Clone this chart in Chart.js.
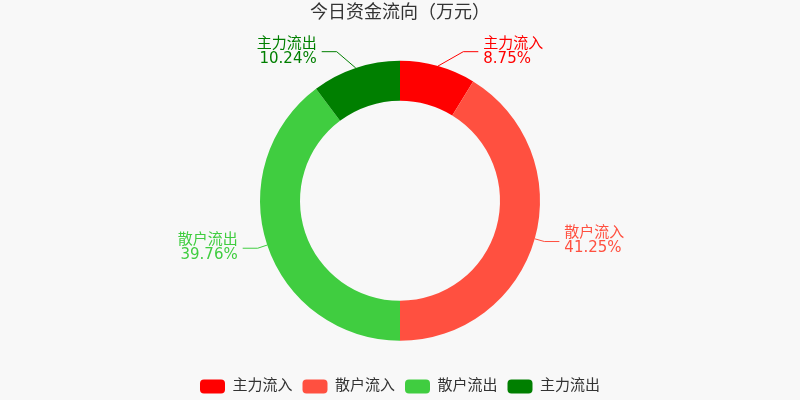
<!DOCTYPE html>
<html>
<head>
<meta charset="utf-8">
<script src="https://cdn.jsdelivr.net/npm/chart.js@4/dist/chart.umd.min.js"></script>
<style>
  html, body { margin: 0; padding: 0; background: #f8f8f8; }
  #wrap { width: 800px; height: 400px; }
</style>
</head>
<body>
<div id="wrap"><canvas id="flowChart"></canvas></div>
<script>
const chartTitle = '今日资金流向（万元）';
const categories = ['主力流入', '散户流入', '散户流出', '主力流出'];
const shares = [8.75, 41.25, 39.76, 10.24];
const sliceColors = ['#ff0000', '#ff5040', '#40cd40', '#007f00'];

const fontFamily = "'DejaVu Sans', 'Noto Sans CJK SC', sans-serif";

// outside labels with a short leader line, like the original
const sliceLabels = {
  id: 'sliceLabels',
  afterDatasetsDraw(chart) {
    const ctx = chart.ctx;
    const meta = chart.getDatasetMeta(0);
    const total = shares.reduce((a, b) => a + b, 0);

    meta.data.forEach((arc, i) => {
      const p = arc.getProps(['x', 'y', 'startAngle', 'endAngle', 'outerRadius'], true);
      const mid = (p.startAngle + p.endAngle) / 2;
      // angle measured from 12 o'clock, clockwise
      let theta = mid + Math.PI / 2;
      theta = Math.atan2(Math.sin(theta), Math.cos(theta));
      const side = theta >= 0 ? 1 : -1;

      const sx = p.x + p.outerRadius * Math.sin(theta);
      const sy = p.y - p.outerRadius * Math.cos(theta);

      // labels near the top get pushed out sideways so they clear the title
      let thetaE = theta, rE = p.outerRadius + 10;
      if (Math.abs(theta) < Math.PI / 6) {
        thetaE = side * 23 * Math.PI / 180;
        rE = p.outerRadius + 22;
      }
      const ex = p.x + rE * Math.sin(thetaE);
      const ey = p.y - rE * Math.cos(thetaE);
      const hx = ex + side * 15;

      ctx.save();
      ctx.strokeStyle = sliceColors[i];
      ctx.lineWidth = 1;
      ctx.beginPath();
      ctx.moveTo(sx, sy);
      ctx.lineTo(ex, ey);
      ctx.lineTo(hx, ey);
      ctx.stroke();

      ctx.fillStyle = sliceColors[i];
      ctx.font = '15px ' + fontFamily;
      ctx.textAlign = side > 0 ? 'left' : 'right';
      ctx.textBaseline = 'middle';
      const tx = hx + side * 5;
      ctx.fillText(categories[i], tx, ey - 8);
      ctx.fillText((shares[i] / total * 100).toFixed(2) + '%', tx, ey + 7);
      ctx.restore();
    });
  }
};

const ctx = document.getElementById('flowChart').getContext('2d');
new Chart(ctx, {
  type: 'doughnut',
  data: {
    labels: categories,
    datasets: [
      {
        data: shares,
        backgroundColor: sliceColors,
        borderWidth: 0,
        hoverOffset: 0,
      },
    ],
  },
  options: {
    responsive: true,
    maintainAspectRatio: false,
    animation: false,
    radius: 140,
    cutout: (100 / 140 * 100) + '%',
    plugins: {
      title: {
        display: true,
        text: chartTitle,
        color: '#333',
        font: { family: fontFamily, size: 18, weight: 'normal' },
        padding: { top: 3, bottom: 8 },
      },
      legend: {
        position: 'bottom',
        labels: {
          color: '#333',
          font: { family: fontFamily, size: 15 },
          boxWidth: 25,
          boxHeight: 14,
          padding: 10,
          useBorderRadius: true,
          borderRadius: 4,
        },
      },
      tooltip: { enabled: false },
    },
    layout: { padding: { bottom: -4 } },
  },
  plugins: [sliceLabels],
});
</script>
</body>
</html>
